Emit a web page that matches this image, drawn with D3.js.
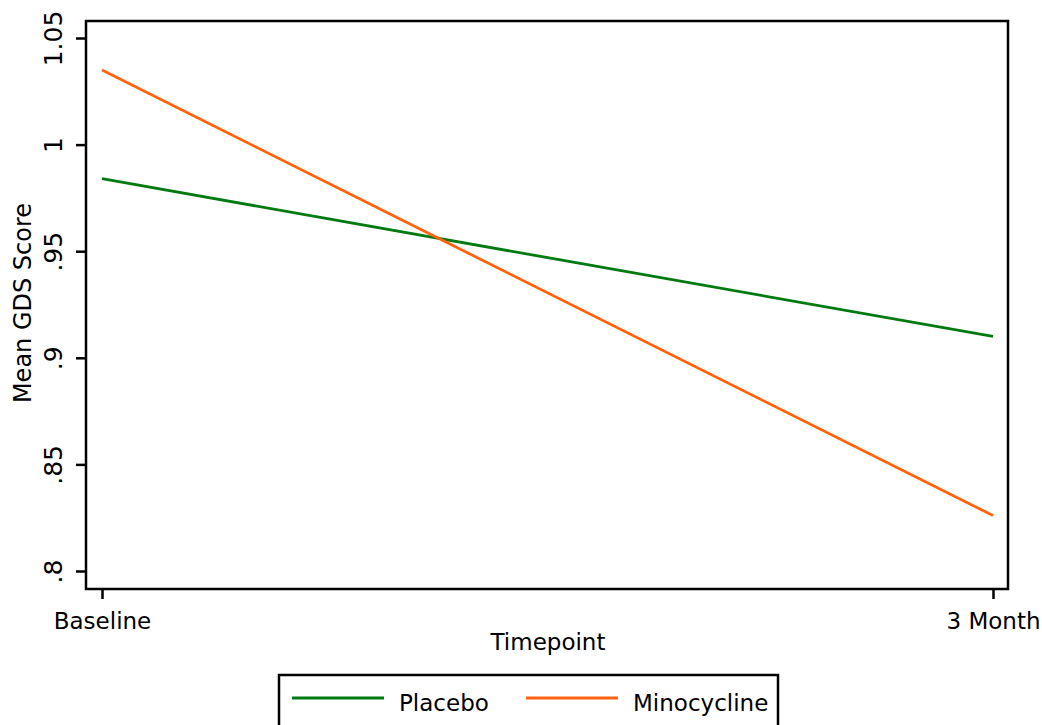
<!DOCTYPE html>
<html>
<head>
<meta charset="utf-8">
<script src="https://cdn.jsdelivr.net/npm/d3@7"></script>
<style>
  body { margin: 0; background: #fff; }
  text { font-family: "DejaVu Sans", sans-serif; fill: #000; }
</style>
</head>
<body>
<svg id="chart"></svg>
<script>
var timepoints = ["Baseline", "3 Month"];
var placebo = [0.984, 0.910];
var minocycline = [1.035, 0.826];
var yTicks = [0.8, 0.85, 0.9, 0.95, 1, 1.05];
var yTickLabels = [".8", ".85", ".9", ".95", "1", "1.05"];
var seriesNames = ["Placebo", "Minocycline"];
var seriesColors = ["#007a10", "#ff6210"];

var width = 1042, height = 725;
var frame = {left: 86, top: 21, right: 1008, bottom: 589};
var fontSize = "23px";

var svg = d3.select("#chart")
  .attr("width", width)
  .attr("height", height);

var x = d3.scalePoint()
  .domain(timepoints)
  .range([102, 993]);

var y = d3.scaleLinear()
  .domain([0.8, 1.05])
  .range([571, 38]);

// plot frame
svg.append("rect")
  .attr("x", frame.left)
  .attr("y", frame.top)
  .attr("width", frame.right - frame.left)
  .attr("height", frame.bottom - frame.top)
  .attr("fill", "none")
  .attr("stroke", "#000")
  .attr("stroke-width", 2.5);

// y axis, labels turned to read upward
var yAxis = svg.append("g")
  .attr("transform", "translate(" + frame.left + ",0)")
  .call(d3.axisLeft(y).tickValues(yTicks).tickSize(10).tickFormat(function (d, i) {
    return yTickLabels[i];
  }));
yAxis.select(".domain").remove();
yAxis.selectAll("line").attr("stroke-width", 2.5);
yAxis.selectAll("text")
  .attr("transform", "rotate(-90)")
  .attr("x", 0)
  .attr("y", -24)
  .attr("dy", 0)
  .attr("text-anchor", "middle")
  .style("font-size", "25px")
  .style("font-family", "DejaVu Sans, sans-serif");

// x axis
var xAxis = svg.append("g")
  .attr("transform", "translate(0," + frame.bottom + ")")
  .call(d3.axisBottom(x).tickSize(10));
xAxis.select(".domain").remove();
xAxis.selectAll("line").attr("stroke-width", 2.5);
xAxis.selectAll("text")
  .attr("y", 40)
  .attr("dy", 0)
  .style("font-size", fontSize)
  .style("font-family", "DejaVu Sans, sans-serif");

// axis titles
svg.append("text")
  .attr("x", 548)
  .attr("y", 650)
  .attr("text-anchor", "middle")
  .style("font-size", fontSize)
  .text("Timepoint");

svg.append("text")
  .attr("transform", "translate(31,303) rotate(-90)")
  .attr("text-anchor", "middle")
  .style("font-size", "24px")
  .text("Mean GDS Score");

// lines
var line = d3.line()
  .x(function (d, i) { return x(timepoints[i]); })
  .y(function (d) { return y(d); });

[placebo, minocycline].forEach(function (vals, i) {
  svg.append("path")
    .datum(vals)
    .attr("d", line)
    .attr("fill", "none")
    .attr("stroke", seriesColors[i])
    .attr("stroke-width", 2.8);
});

// legend
var legend = svg.append("g");
legend.append("rect")
  .attr("x", 279)
  .attr("y", 675)
  .attr("width", 499)
  .attr("height", 60)
  .attr("fill", "#fff")
  .attr("stroke", "#000")
  .attr("stroke-width", 2.5);

var legendX = [292, 526];
seriesNames.forEach(function (name, i) {
  legend.append("line")
    .attr("x1", legendX[i])
    .attr("x2", legendX[i] + 92)
    .attr("y1", 698)
    .attr("y2", 698)
    .attr("stroke", seriesColors[i])
    .attr("stroke-width", 2.8);
  legend.append("text")
    .attr("x", legendX[i] + 107)
    .attr("y", 711)
    .style("font-size", fontSize)
    .text(name);
});
</script>
</body>
</html>
